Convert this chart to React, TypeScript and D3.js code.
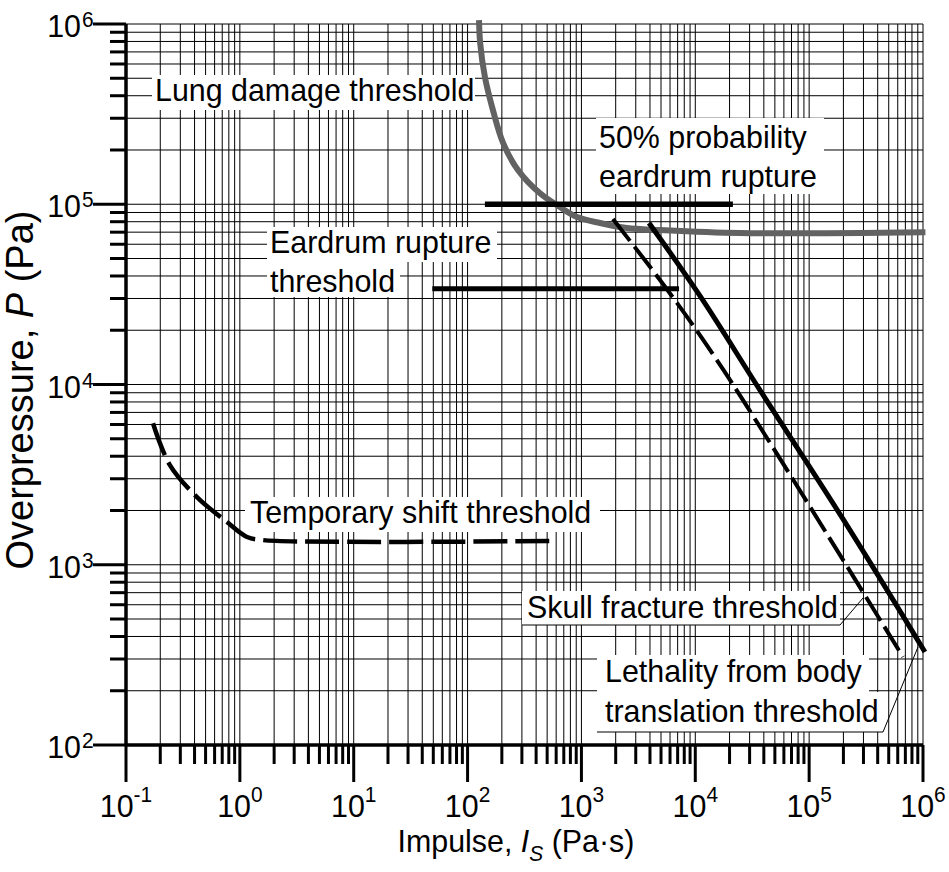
import React from 'react';
import * as d3 from 'd3';

// decades shown on each axis
const xExponents = [-1, 0, 1, 2, 3, 4, 5, 6];
const yExponents = [2, 3, 4, 5, 6];

// [impulse (Pa·s), overpressure (Pa)]
const lungDamage = [
  [126, 1.05e6], [129, 7.85e5], [142, 5.08e5], [167, 3.33e5], [205, 2.19e5],
  [277, 1.55e5], [433, 1.15e5], [648, 9.65e4], [915, 8.5e4], [1455, 7.87e4],
  [2510, 7.38e4], [4900, 7.19e4], [24700, 6.92e4], [1.05e6, 7.0e4],
];
const eardrum50 = [[142, 1e5], [21400, 1e5]];
const eardrumThreshold = [[49, 3.4e4], [7200, 3.4e4]];
const skullFracture = [[1890, 8.28e4], [6000, 3.2e4], [18200, 1.17e4], [6.67e5, 308]];
const bodyTranslation = [[3920, 7.87e4], [11000, 3.1e4], [37000, 9300], [1.98e5, 1795], [1.04e6, 328]];
const temporaryShift = [
  [0.1726, 6100], [0.243, 3570], [0.42, 2375], [0.771, 1725],
  [1.156, 1425], [1.6, 1370], [530, 1355],
];

const FONT = 'Liberation Sans, Arial, Helvetica, sans-serif';

const x = d3.scaleLog().domain([0.1, 1e6]).range([126, 923]);
const y = d3.scaleLog().domain([100, 1e6]).range([745, 24]);

const lineStraight = d3.line<number[]>().x(d => x(d[0])).y(d => y(d[1]));
const lineSmooth = d3.line<number[]>().x(d => x(d[0])).y(d => y(d[1])).curve(d3.curveCatmullRom.alpha(0.5));

const Txt = ({ tx, ty, children, size = 32, anchor = 'start' }: any) => (
  <g transform={`translate(${tx},${ty}) scale(0.95,1)`}>
    <text fontFamily={FONT} fontSize={size} textAnchor={anchor} fill="#000">{children}</text>
  </g>
);

const App = () => {
  const xt = x.ticks();
  const yt = y.ticks();
  const isMajor = (v: number) => Math.abs(Math.log10(v) - Math.round(Math.log10(v))) < 1e-9;

  return (
    <svg width={949} height={872} style={{ position: 'absolute', left: 0, top: 0, background: '#fff' }}>
      <rect width={949} height={872} fill="#fff" />
      {/* grid */}
      <g stroke="#000" strokeWidth={1}>
        {xt.map((v, i) => <line key={'gx' + i} x1={x(v)} x2={x(v)} y1={y(1e6)} y2={y(100)} />)}
        {yt.map((v, i) => <line key={'gy' + i} x1={x(0.1)} x2={x(1e6)} y1={y(v)} y2={y(v)} />)}
      </g>

      {/* label backgrounds */}
      <g fill="#fff">
        <rect x={152} y={75} width={323} height={35} />
        <rect x={596} y={118} width={228} height={76} />
        <rect x={267} y={227} width={230} height={35} />
        <rect x={267} y={262} width={133} height={35} />
        <rect x={245} y={497} width={355} height={35} />
        <rect x={522} y={591} width={318} height={34} />
        <rect x={597} y={655} width={272} height={37} />
        <rect x={597} y={692} width={286} height={40} />
      </g>

      {/* curves */}
      <path d={lineSmooth(lungDamage as any) || ''} fill="none" stroke="#626262" strokeWidth={6} />
      <path d={lineStraight(eardrum50 as any) || ''} fill="none" stroke="#000" strokeWidth={5.5} />
      <path d={lineStraight(eardrumThreshold as any) || ''} fill="none" stroke="#000" strokeWidth={5} />
      <path d={lineSmooth(skullFracture as any) || ''} fill="none" stroke="#000" strokeWidth={4} strokeDasharray="28 7" />
      <path d={lineSmooth(bodyTranslation as any) || ''} fill="none" stroke="#000" strokeWidth={5} />
      <path d={lineSmooth(temporaryShift as any) || ''} fill="none" stroke="#000" strokeWidth={4.5} strokeDasharray="34 8" />

      {/* leaders */}
      <polyline points="522,625 840,625 863,598" fill="none" stroke="#000" strokeWidth={1} />
      <polyline points="597,732 883,732 918,647" fill="none" stroke="#000" strokeWidth={1} />

      {/* labels */}
      <Txt tx={155} ty={101}>Lung damage threshold</Txt>
      <Txt tx={599} ty={148}>50% probability</Txt>
      <Txt tx={599} ty={187}>eardrum rupture</Txt>
      <Txt tx={270} ty={253}>Eardrum rupture</Txt>
      <Txt tx={270} ty={292}>threshold</Txt>
      <Txt tx={250} ty={523}>Temporary shift threshold</Txt>
      <Txt tx={527} ty={618}>Skull fracture threshold</Txt>
      <Txt tx={605} ty={682}>Lethality from body</Txt>
      <Txt tx={605} ty={722}>translation threshold</Txt>

      {/* axes */}
      <g stroke="#000">
        <line x1={x(0.1)} x2={x(0.1)} y1={y(1e6)} y2={y(100)} strokeWidth={3.5} />
        <line x1={x(0.1)} x2={x(1e6)} y1={y(100)} y2={y(100)} strokeWidth={3.5} />
        {yt.map((v, i) => (
          <line key={'ty' + i} x1={isMajor(v) ? 93 : 110} x2={x(0.1)} y1={y(v)} y2={y(v)} strokeWidth={3} />
        ))}
        {xt.map((v, i) => (
          <line key={'tx' + i} x1={x(v)} x2={x(v)} y1={y(100)} y2={isMajor(v) ? 782 : 764} strokeWidth={3} />
        ))}
      </g>

      {yExponents.map(e => (
        <g key={'ly' + e}>
          <Txt tx={81} ty={y(Math.pow(10, e)) + 13} size={32} anchor="end">10</Txt>
          <Txt tx={82} ty={y(Math.pow(10, e)) + 3} size={22}>{String(e)}</Txt>
        </g>
      ))}
      {xExponents.map(e => (
        <Txt key={'lx' + e} tx={x(Math.pow(10, e))} ty={817} size={32} anchor="middle">
          10<tspan fontSize={22} dy={-15}>{String(e)}</tspan>
        </Txt>
      ))}

      {/* axis titles */}
      <Txt tx={516} ty={852} size={32} anchor="middle">
        Impulse, <tspan fontStyle="italic">I</tspan>
        <tspan fontStyle="italic" fontSize={22} dy={9}>S</tspan>
        <tspan dy={-9}> (Pa·s)</tspan>
      </Txt>
      <g transform="translate(33,390) rotate(-90)">
        <text fontFamily={FONT} fontSize={38} textAnchor="middle" fill="#000">
          Overpressure, <tspan fontStyle="italic">P</tspan> (Pa)
        </text>
      </g>
    </svg>
  );
};

export default App;
